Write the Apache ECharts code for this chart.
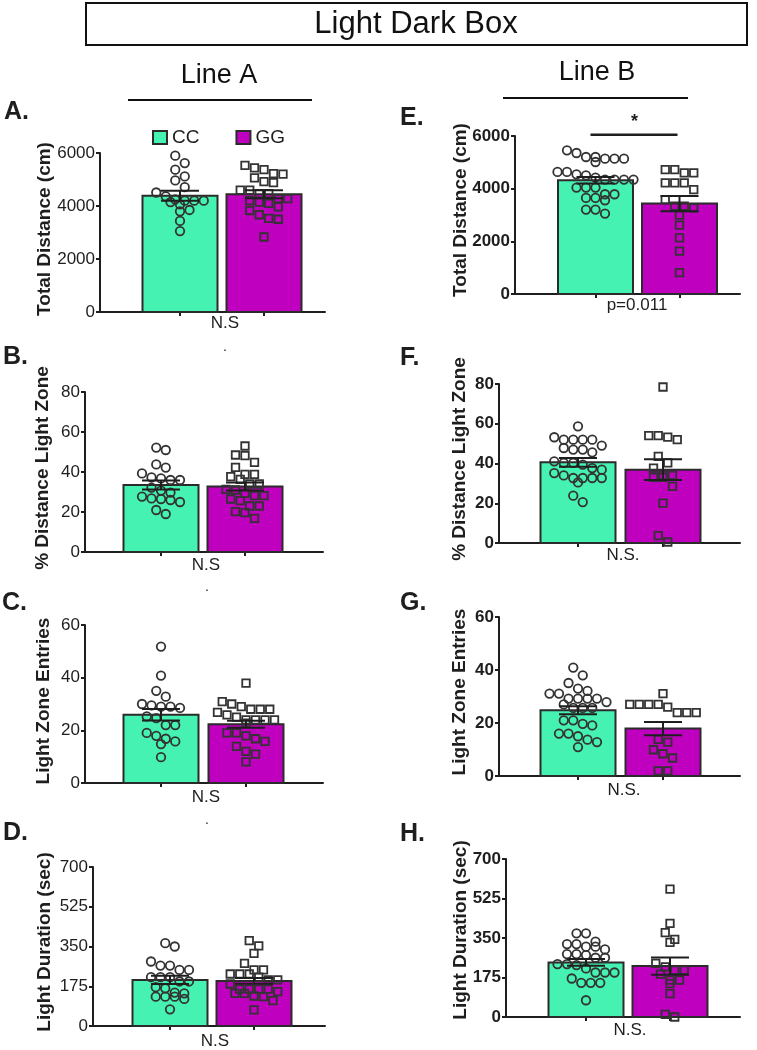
<!DOCTYPE html>
<html><head><meta charset="utf-8">
<script src="https://cdn.jsdelivr.net/npm/echarts@6/dist/echarts.min.js"></script>
<style>html,body{margin:0;padding:0;background:#fff}#c{width:757px;height:1050px}</style>
</head><body><div id="c"></div>
<script>
// ---------------- DATA ----------------
const groups = ['CC', 'GG'];

// A. Line A – Total Distance (cm)
const aCC = [5900, 5620, 5370, 5115, 4965, 4710, 4510, 4360, 4250, 4200, 4200, 4200, 4150, 4060, 3850, 3800, 3435, 3055];
const aGG = [5530, 5440, 5370, 5220, 5200, 5060, 4920, 4880, 4600, 4600, 4470, 4470, 4280, 4280, 4200, 4150, 4100, 3970, 3830, 3670, 3530, 3500, 2830];
const aMean = [4390, 4440], aSem = [190, 150];
// B. Line A – % Distance Light Zone
const bCC = [52.2, 51, 43.8, 42.2, 39.3, 37.3, 36.8, 36, 36, 32.2, 30.7, 29.7, 27.7, 26.8, 26.5, 26, 25, 21, 19];
const bGG = [53, 48.5, 48.2, 44.8, 42.3, 38.8, 38.8, 37.7, 36.3, 34, 34, 31.3, 31, 29.3, 28.2, 28.2, 26.5, 25.7, 23, 23, 20.2, 19.7, 16.8];
const bMean = [33.5, 32.7], bSem = [2.2, 2.0];
// C. Line A – Light Zone Entries
const cCC = [51.8, 40.8, 35, 32.8, 30, 29.5, 29, 29, 28.5, 25.3, 24.6, 22, 22, 19, 17.9, 16.8, 15.8, 14.8, 9.8];
const cGG = [37.9, 30.9, 30, 29, 28, 28, 28, 26.8, 25.9, 25, 24, 24, 24, 24, 22.7, 19, 19, 17.9, 16.8, 15.8, 13.9, 12, 11, 8];
const cMean = [25.9, 22.3], cSem = [2.2, 1.3];
// D. Line A – Light Duration (sec)
const dCC = [364.7, 350, 284, 266, 266, 247, 247, 215, 215, 215, 196, 196, 171, 166, 147, 144, 129, 129, 129, 119, 73.5];
const dGG = [376, 353, 320, 276, 247, 247, 229, 229, 229, 215, 203, 203, 185, 162, 162, 162, 162, 151, 144, 144, 132, 129, 112, 70.6];
const dMean = [203, 198.5], dSem = [18, 13];
// E. Line B – Total Distance (cm)
const eCC = [5455, 5354, 5202, 5202, 5139, 5139, 5139, 5013, 4634, 4634, 4545, 4508, 4420, 4344, 4344, 4344, 4344, 4041, 4041, 4041, 3788, 3788, 3649, 3649, 3560, 3207, 3207, 3056];
const eGG = [4722, 4722, 4596, 4596, 4217, 4217, 4217, 3965, 3586, 3333, 3333, 3270, 2993, 2614, 2134, 1629, 808];
const eMean = [4318, 3435], eSem = [125, 290];
// F. Line B – % Distance Light Zone
const fCC = [58.7, 53.2, 52, 52, 52, 52, 49, 47.8, 47, 47, 45.6, 41.1, 40.3, 40.3, 39.4, 37.7, 36.9, 35.2, 34, 32.7, 32.7, 32.7, 32.7, 30.5, 23.8, 20.6];
const fGG = [78.5, 54, 54, 53.3, 52, 43.6, 40.3, 37.7, 34, 34, 33, 33, 28.5, 20.1, 3.7, 0.5];
const fMean = [40.6, 36.9], fSem = [2.2, 5.2];
// G. Line B – Light Zone Entries
const gCC = [40.9, 38, 35.1, 33, 32.1, 31.1, 31.1, 29.2, 29.2, 29.2, 29.2, 27.9, 27, 25.7, 25.7, 25.7, 21, 21, 19.7, 19.1, 16, 16, 15, 13.7, 12.8, 10.9];
const gGG = [31.1, 27, 27, 27, 27, 26, 23.9, 23.9, 23.9, 13.8, 12.8, 9.9, 8.4, 6.8, 1.9, 1.9];
const gMean = [24.8, 17.9], gSem = [1.5, 2.5];
// H. Line B – Light Duration (sec)
const hCC = [370.8, 370.8, 333.7, 323.3, 323.3, 311.4, 311.4, 299.6, 278.8, 278.8, 274.4, 262.5, 262.5, 234.3, 234.3, 229.9, 215, 197.2, 197.2, 197.2, 170.5, 151.3, 151.3, 151.3, 74.2];
const hGG = [566.5, 415.2, 373.7, 344, 330.7, 237.3, 222.5, 207.6, 207.6, 189.8, 163.1, 163.1, 148.3, 103.8, 11.9, 0];
const hMean = [241.7, 225.4], hSem = [15, 38];

// tick labels
const ticksDist = [0, 2000, 4000, 6000];
const ticksPct = [0, 20, 40, 60, 80];
const ticksEntries = [0, 20, 40, 60];
const ticksDur = [0, 175, 350, 525, 700];

// significance in E
const sigE = { from: 1, to: 2, level: 6050, label: '*' };

// ---------------- STYLE / LAYOUT ----------------
const FONT = '"Liberation Sans", Arial, Helvetica, sans-serif';
const GREEN = '#46F2B2', MAGENTA = '#BF00BF', INK = '#1e1e1e', EDGE = '#2b2b2b';
const COLORS = [GREEN, MAGENTA];
const BAR_W = 75, CAP_W = 38, DOT_GAP = 9.5, ROW_H = 9;

const panels = [
  { letter: 'A.', cc: aCC, gg: aGG, mean: aMean, sem: aSem, ticks: ticksDist, yName: 'Total Distance (cm)', note: 'N.S', bold: false,
    L: { x0: 100, x1: 325, c1: 180, c2: 264, top: 153, bottom: 312, lt: [4, 112], nm: [45, 229], nt: [225, 323], dot: [225, 347] } },
  { letter: 'B.', cc: bCC, gg: bGG, mean: bMean, sem: bSem, ticks: ticksPct, yName: '% Distance Light Zone', note: 'N.S', bold: false,
    L: { x0: 85, x1: 323, c1: 161, c2: 245, top: 392, bottom: 552, lt: [3, 357], nm: [43, 468], nt: [206, 565], dot: [207, 587] } },
  { letter: 'C.', cc: cCC, gg: cGG, mean: cMean, sem: cSem, ticks: ticksEntries, yName: 'Light Zone Entries', note: 'N.S', bold: false,
    L: { x0: 85, x1: 323, c1: 161, c2: 246, top: 625, bottom: 783, lt: [2, 603], nm: [44, 701], nt: [206, 797], dot: [207, 820] } },
  { letter: 'D.', cc: dCC, gg: dGG, mean: dMean, sem: dSem, ticks: ticksDur, yName: 'Light Duration (sec)', note: 'N.S', bold: false,
    L: { x0: 93, x1: 325, c1: 170, c2: 254, top: 867, bottom: 1026, lt: [3, 833], nm: [45, 942], nt: [215, 1041] } },
  { letter: 'E.', cc: eCC, gg: eGG, mean: eMean, sem: eSem, ticks: ticksDist, yName: 'Total Distance (cm)', note: 'p=0.011', bold: true, sig: sigE,
    L: { x0: 515, x1: 740, c1: 595.5, c2: 679.5, top: 136, bottom: 294, lt: [400, 118], nm: [461, 210], nt: [637, 305] } },
  { letter: 'F.', cc: fCC, gg: fGG, mean: fMean, sem: fSem, ticks: ticksPct, yName: '% Distance Light Zone', note: 'N.S.', bold: true,
    L: { x0: 499, x1: 740, c1: 578, c2: 663, top: 384, bottom: 543, lt: [400, 358], nm: [460, 459], nt: [623, 555] } },
  { letter: 'G.', cc: gCC, gg: gGG, mean: gMean, sem: gSem, ticks: ticksEntries, yName: 'Light Zone Entries', note: 'N.S.', bold: true,
    L: { x0: 499, x1: 740, c1: 578, c2: 663, top: 617, bottom: 776, lt: [400, 603], nm: [460, 692], nt: [624, 790] } },
  { letter: 'H.', cc: hCC, gg: hGG, mean: hMean, sem: hSem, ticks: ticksDur, yName: 'Light Duration (sec)', note: 'N.S.', bold: true,
    L: { x0: 506, x1: 740, c1: 586, c2: 670, top: 859, bottom: 1017, lt: [400, 834], nm: [461, 930], nt: [630, 1030] } }
];

// Prism-like row layout of the dots (horizontal spread computed from values)
function swarm(values, cat, L, ymax) {
  const ppy = (L.bottom - L.top) / ymax;
  const sp = L.c2 - L.c1;
  const sorted = values.slice().sort((a, b) => b - a);
  const rows = [];
  let row = null;
  sorted.forEach(v => {
    if (row && (row.start - v) * ppy < ROW_H) row.items.push(v);
    else { row = { start: v, items: [v] }; rows.push(row); }
  });
  const out = [];
  rows.forEach(r => {
    const n = r.items.length;
    r.items.forEach((v, i) => out.push([cat + (i - (n - 1) / 2) * DOT_GAP / sp, v]));
  });
  return out;
}

const grids = [], xAxes = [], yAxes = [], series = [], graphics = [];

panels.forEach((p, i) => {
  const L = p.L;
  const sp = L.c2 - L.c1;
  const ymax = p.ticks[p.ticks.length - 1];
  grids.push({ left: L.x0, top: L.top, width: L.x1 - L.x0, height: L.bottom - L.top });
  xAxes.push({
    gridIndex: i, type: 'value',
    min: 1 - (L.c1 - L.x0) / sp, max: 2 + (L.x1 - L.c2) / sp,
    axisLine: { show: true, onZero: false, lineStyle: { color: INK, width: 2 } },
    axisTick: { show: true, customValues: [1, 2], length: 4, lineStyle: { color: INK, width: 2 } },
    axisLabel: { show: false }, splitLine: { show: false }
  });
  yAxes.push({
    gridIndex: i, type: 'value', min: p.ticks[0], max: ymax, interval: p.ticks[1] - p.ticks[0],
    axisLine: { show: true, lineStyle: { color: INK, width: 2 } },
    axisTick: { show: true, length: 4, lineStyle: { color: INK, width: 2 } },
    axisLabel: { fontSize: 17, color: INK, fontFamily: FONT, fontWeight: p.bold ? 'bold' : 'normal', margin: 5,
      formatter: v => String(v) },
    splitLine: { show: false }
  });
  // bars
  [0, 1].forEach(g => {
    series.push({
      type: 'custom', name: groups[g], xAxisIndex: i, yAxisIndex: i, z: 1, clip: false, silent: true,
      itemStyle: { color: COLORS[g] },
      data: [[g + 1, p.mean[g]]],
      renderItem: (params, api) => {
        const x = api.value(0), v = api.value(1);
        const t = api.coord([x, v]), b = api.coord([x, 0]);
        return { type: 'rect', shape: { x: t[0] - BAR_W / 2, y: t[1], width: BAR_W, height: b[1] - t[1] },
          style: { fill: COLORS[g], stroke: EDGE, lineWidth: 2 } };
      }
    });
  });
  // points
  [[p.cc, 1, 'circle', 8.5], [p.gg, 2, 'rect', 7.5]].forEach(([vals, cat, sym, size]) => {
    series.push({
      type: 'scatter', xAxisIndex: i, yAxisIndex: i, z: 3, clip: false, silent: true,
      symbol: sym, symbolSize: size,
      itemStyle: { color: 'rgba(0,0,0,0)', borderColor: '#333', borderWidth: 1.8, opacity: 1 },
      data: swarm(vals, cat, L, ymax)
    });
  });
  // error bars (mean ± SEM)
  series.push({
    type: 'custom', xAxisIndex: i, yAxisIndex: i, z: 4, clip: false, silent: true,
    data: [[1, p.mean[0], p.sem[0]], [2, p.mean[1], p.sem[1]]],
    renderItem: (params, api) => {
      const x = api.value(0), m = api.value(1), s = api.value(2);
      const hi = api.coord([x, m + s]), lo = api.coord([x, m - s]);
      const st = { stroke: INK, lineWidth: 2 };
      return { type: 'group', children: [
        { type: 'line', shape: { x1: hi[0], y1: hi[1], x2: lo[0], y2: lo[1] }, style: st },
        { type: 'line', shape: { x1: hi[0] - CAP_W / 2, y1: hi[1], x2: hi[0] + CAP_W / 2, y2: hi[1] }, style: st },
        { type: 'line', shape: { x1: lo[0] - CAP_W / 2, y1: lo[1], x2: lo[0] + CAP_W / 2, y2: lo[1] }, style: st }
      ] };
    }
  });
  // significance bracket
  if (p.sig) {
    series.push({
      type: 'custom', xAxisIndex: i, yAxisIndex: i, z: 5, clip: false, silent: true,
      data: [[p.sig.from, p.sig.to, p.sig.level]],
      renderItem: (params, api) => {
        const a = api.coord([api.value(0), api.value(2)]), b = api.coord([api.value(1), api.value(2)]);
        return { type: 'group', children: [
          { type: 'line', shape: { x1: a[0] - 5, y1: a[1], x2: b[0] - 2, y2: b[1] }, style: { stroke: INK, lineWidth: 2.5 } },
          { type: 'text', x: (a[0] + b[0]) / 2 - 3, y: a[1] - 4,
            style: { text: p.sig.label, font: 'bold 18px ' + FONT, fill: INK, textAlign: 'center', textVerticalAlign: 'bottom', align: 'center', verticalAlign: 'bottom' } }
        ] };
      }
    });
  }
  // texts
  graphics.push({ type: 'text', x: L.lt[0], y: L.lt[1], silent: true,
    style: { text: p.letter, font: 'bold 25px ' + FONT, fill: INK, textAlign: 'left', textVerticalAlign: 'middle', align: 'left', verticalAlign: 'middle' } });
  graphics.push({ type: 'text', x: L.nm[0], y: L.nm[1], rotation: Math.PI / 2, silent: true,
    style: { text: p.yName, font: 'bold 19px ' + FONT, fill: INK, textAlign: 'center', textVerticalAlign: 'middle', align: 'center', verticalAlign: 'middle' } });
  graphics.push({ type: 'text', x: L.nt[0], y: L.nt[1], silent: true,
    style: { text: p.note, font: '17px ' + FONT, fill: INK, textAlign: 'center', textVerticalAlign: 'middle', align: 'center', verticalAlign: 'middle' } });
  if (L.dot) graphics.push({ type: 'text', x: L.dot[0], y: L.dot[1], silent: true,
    style: { text: '.', font: '14px ' + FONT, fill: INK, textAlign: 'center', textVerticalAlign: 'middle', align: 'center', verticalAlign: 'middle' } });
});

// headings
graphics.push({ type: 'rect', silent: true, shape: { x: 86, y: 3, width: 661, height: 42 }, style: { fill: 'none', stroke: '#111', lineWidth: 2 } });
graphics.push({ type: 'text', x: 416, y: 24, silent: true,
  style: { text: 'Light Dark Box', font: '31px ' + FONT, fill: '#111', textAlign: 'center', textVerticalAlign: 'middle', align: 'center', verticalAlign: 'middle' } });
graphics.push({ type: 'text', x: 219, y: 76, silent: true,
  style: { text: 'Line A', font: '27px ' + FONT, fill: '#111', textAlign: 'center', textVerticalAlign: 'middle', align: 'center', verticalAlign: 'middle' } });
graphics.push({ type: 'line', silent: true, shape: { x1: 128, y1: 100, x2: 312, y2: 100 }, style: { stroke: '#111', lineWidth: 2 } });
graphics.push({ type: 'text', x: 597, y: 73, silent: true,
  style: { text: 'Line B', font: '27px ' + FONT, fill: '#111', textAlign: 'center', textVerticalAlign: 'middle', align: 'center', verticalAlign: 'middle' } });
graphics.push({ type: 'line', silent: true, shape: { x1: 503, y1: 98, x2: 688, y2: 98 }, style: { stroke: '#111', lineWidth: 2 } });

const chart = echarts.init(document.getElementById('c'), null, { renderer: 'canvas' });
chart.setOption({
  animation: false,
  backgroundColor: '#fff',
  grid: grids, xAxis: xAxes, yAxis: yAxes, series: series,
  legend: {
    left: 152, top: 128, padding: 0, icon: 'rect', itemWidth: 14, itemHeight: 13, itemGap: 36, selectedMode: false,
    textStyle: { fontSize: 19, fontFamily: FONT, color: INK },
    data: [
      { name: 'CC', itemStyle: { color: GREEN, borderColor: EDGE, borderWidth: 2 } },
      { name: 'GG', itemStyle: { color: MAGENTA, borderColor: EDGE, borderWidth: 2 } }
    ]
  },
  graphic: { elements: graphics }
});
</script></body></html>
